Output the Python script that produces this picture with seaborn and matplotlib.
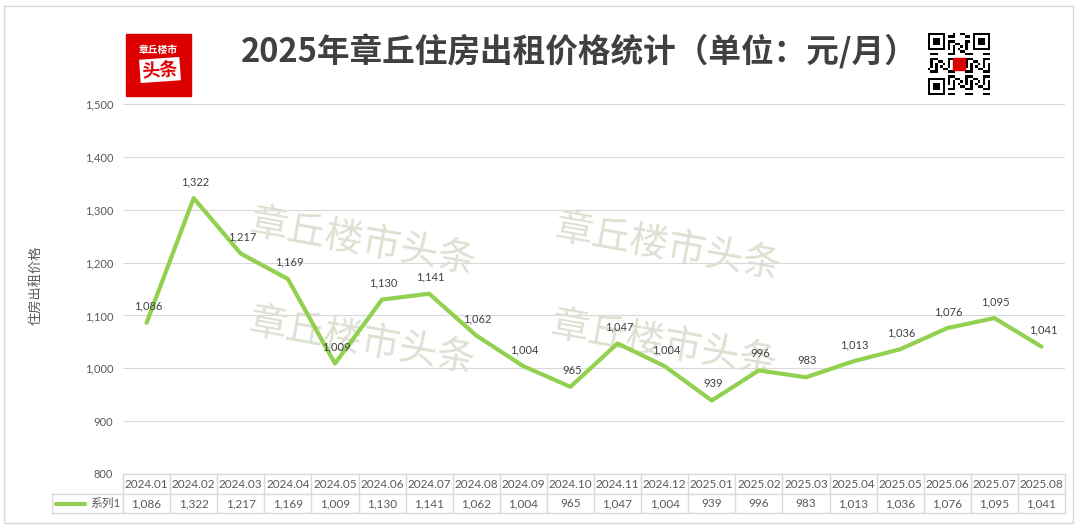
import matplotlib
matplotlib.use("Agg")
import matplotlib.pyplot as plt
import matplotlib.transforms as mtransforms
from matplotlib.patches import Rectangle
import seaborn as sns
import pandas as pd
import numpy as np

# dados: preço médio de aluguel por mês
meses = ['2024.01', '2024.02', '2024.03', '2024.04', '2024.05', '2024.06', '2024.07',
         '2024.08', '2024.09', '2024.10', '2024.11', '2024.12', '2025.01', '2025.02',
         '2025.03', '2025.04', '2025.05', '2025.06', '2025.07', '2025.08']
precos = [1086, 1322, 1217, 1169, 1009, 1130, 1141, 1062, 1004, 965,
          1047, 1004, 939, 996, 983, 1013, 1036, 1076, 1095, 1041]
serie = '系列1'
titulo = '2025年章丘住房出租价格统计（单位：元/月）'
rotulo_y = '住房出租价格'
marca = '章丘楼市头条'

df = pd.DataFrame({'mes': meses, 'preco': precos})

sns.set_theme(style='white')
plt.rcParams['font.family'] = ['Lato', 'Noto Sans CJK SC', 'DejaVu Sans']

W, H = 1080, 529
fig = plt.figure(figsize=(W / 100, H / 100), dpi=100)


def fx(px):
    return px / W


def fy(py):
    return 1 - py / H


# borda externa
fig.patches.append(Rectangle((fx(4), fy(523)), fx(1073) - fx(4), fy(6) - fy(523),
                             transform=fig.transFigure, fill=False,
                             edgecolor='#D9D9D9', linewidth=1))

ax = fig.add_axes([fx(123), fy(474), fx(1065) - fx(123), fy(104) - fy(474)])

# marcas d'água
for cx, cy in [(363, 243), (362, 342), (668, 248), (664, 345)]:
    ax.text(fx(cx), fy(cy), marca, transform=fig.transFigure, fontsize=27.5,
            color='#DCE1D2', rotation=-10, ha='center', va='center',
            family=['Noto Sans CJK SC'], fontweight='light', zorder=0)

sns.lineplot(data=df, x='mes', y='preco', ax=ax, color='#92D050', linewidth=3,
             sort=False, zorder=3)

for i, v in enumerate(precos):
    ax.annotate(f'{v:,}', (i, v), xytext=(1, 8), textcoords='offset points',
                ha='center', va='bottom', fontsize=8, color='#404040', zorder=4)

ax.set_xlim(-0.5, len(meses) - 0.5)
ax.set_ylim(800, 1500)
ax.set_yticks(range(800, 1501, 100))
ax.set_yticklabels([f'{t:,}' for t in range(800, 1501, 100)])
ax.tick_params(axis='y', labelsize=8, labelcolor='#595959', length=0, pad=7)
ax.set_xticks([])
ax.set_xlabel('')
ax.set_ylabel('')
ax.grid(axis='y', color='#D9D9D9', linewidth=0.8)
for s in ax.spines.values():
    s.set_visible(False)

fig.text(fx(35), fy(285), rotulo_y, rotation=90, ha='center', va='center',
         fontsize=9.5, color='#595959')

# tabela de dados
tr = mtransforms.blended_transform_factory(ax.transData, fig.transFigure)
y_top, y_mid, y_bot = fy(474), fy(494), fy(513)
x_leg = -2.0
n = len(meses)
kw = dict(transform=tr, color='#D9D9D9', linewidth=1, clip_on=False)
ax.plot([-0.5, n - 0.5], [y_top, y_top], **kw)
ax.plot([x_leg, n - 0.5], [y_mid, y_mid], **kw)
ax.plot([x_leg, n - 0.5], [y_bot, y_bot], **kw)
ax.plot([x_leg, x_leg], [y_mid, y_bot], **kw)
for k in range(n + 1):
    ax.plot([k - 0.5, k - 0.5], [y_top, y_bot], **kw)
for i, (m, v) in enumerate(zip(meses, precos)):
    ax.text(i, (y_top + y_mid) / 2, m, transform=tr, ha='center', va='center',
            fontsize=8.5, color='#595959')
    ax.text(i, (y_mid + y_bot) / 2, f'{v:,}', transform=tr, ha='center', va='center',
            fontsize=8.5, color='#595959')
ax.plot([-1.93, -1.3], [(y_mid + y_bot) / 2] * 2, transform=tr, color='#92D050',
        linewidth=3, clip_on=False, solid_capstyle='round')
ax.text(-0.56, (y_mid + y_bot) / 2, serie, transform=tr, ha='right', va='center',
        fontsize=8.5, color='#595959')

# título
fig.text(fx(579), fy(52), titulo, ha='center', va='center', fontsize=23.5,
         fontweight='bold', color='#404040', family=['Noto Sans CJK SC'])

# logotipo
fig.patches.append(Rectangle((fx(126), fy(96)), fx(191) - fx(126), fy(34) - fy(96),
                             transform=fig.transFigure, color='#DD0000'))
fig.text(fx(158), fy(50), '章丘楼市', ha='center', va='center', fontsize=7,
         fontweight='bold', color='white', family=['Noto Sans CJK SC'])
fig.text(fx(160), fy(70), '头条', ha='center', va='center', fontsize=13,
         fontweight='bold', color='#DD0000', rotation=4, family=['Noto Sans CJK SC'],
         bbox=dict(boxstyle='square,pad=0.12', facecolor='white', edgecolor='none'))

# código QR (decorativo)
q = 25
grid = np.zeros((q, q))
ii, jj = np.meshgrid(np.arange(q), np.arange(q), indexing='ij')
grid[((ii * ii * 3 + jj * 5 + ii * jj) % 7) < 3] = 1
for r0, c0 in [(0, 0), (0, q - 7), (q - 7, 0)]:
    grid[max(r0 - 1, 0):r0 + 8, max(c0 - 1, 0):c0 + 8] = 0
    grid[r0:r0 + 7, c0:c0 + 7] = 1
    grid[r0 + 1:r0 + 6, c0 + 1:c0 + 6] = 0
    grid[r0 + 2:r0 + 5, c0 + 2:c0 + 5] = 1
axq = fig.add_axes([fx(928), fy(95), fx(990) - fx(928), fy(33) - fy(95)])
axq.imshow(grid, cmap='gray_r', interpolation='nearest')
axq.add_patch(Rectangle((9.5, 9.5), 5, 5, color='#DD0000'))
axq.axis('off')

fig.savefig('out.png', dpi=100)
